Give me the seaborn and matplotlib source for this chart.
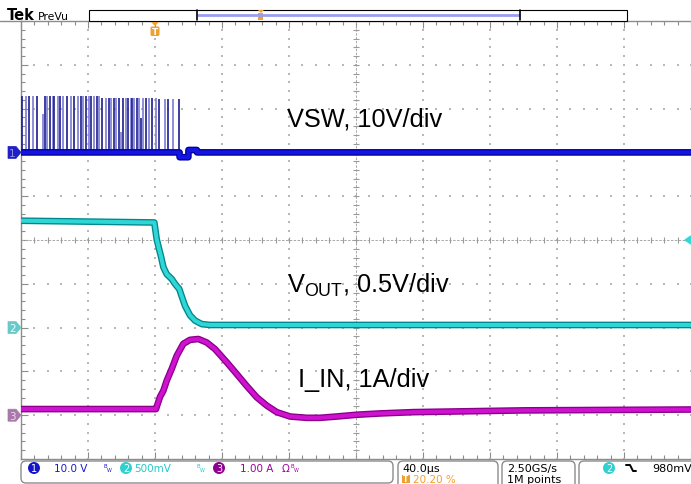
import numpy as np
import pandas as pd
import matplotlib
matplotlib.use("Agg")
import matplotlib.pyplot as plt
import seaborn as sns
from matplotlib import font_manager
from matplotlib.patches import Rectangle, FancyBboxPatch, Polygon, Ellipse

# ---------------- data ----------------
# horizontal: 40 us/div, 10 divisions, trigger at 80 us (20 %)
# CH1 VSW (10 V/div): switching pulses then a flat trace
vsw_pulse_t_us = [0.4, 2.8, 4.8, 7.3, 9.7, 13.0, 14.3, 15.7, 17.1, 18.9, 19.9, 21.9,
                  23.3, 25.1, 27.6, 29.7, 31.8, 34.2, 35.6, 37.2, 38.8, 40.6, 42.0,
                  43.4, 45.2, 46.8, 48.4, 50.8, 52.5, 53.6, 55.5, 56.7, 58.5, 59.7,
                  60.7, 62.5, 64.1, 65.5, 66.5, 67.6, 69.4, 70.6, 71.6, 73.0, 74.5,
                  76.6, 78.4, 80.6, 82.6, 86.0, 87.9, 90.6, 94.5]
vsw_pulse_v = [12.8, 12.8, 12.8, 12.8, 12.8, 8.8, 12.8, 12.8, 12.8, 12.8, 12.8, 12.8,
               12.8, 12.8, 12.8, 12.8, 12.8, 12.8, 12.8, 12.8, 12.8, 12.8, 12.8,
               12.8, 12.8, 12.8, 12.5, 12.5, 12.5, 12.5, 12.5, 12.5, 12.5, 4.7,
               12.5, 12.5, 12.5, 12.5, 12.5, 12.5, 12.5, 12.5, 7.9, 12.5, 12.5,
               12.5, 12.5, 12.5, 12.2, 12.2, 12.2, 12.2, 12.2]
vsw_t_us = [0, 94.6, 94.7, 99.9, 100.0, 105.0, 105.1, 400]
vsw_v = [0.0, 0.0, -1.1, -1.1, 0.55, 0.55, 0.0, 0.0]

# CH2 VOUT (0.5 V/div)
vout_t_us = [0, 79.6, 81.0, 82.4, 83.6, 85.0, 87.0, 90.0, 91.9, 94.5, 95.9, 97.9,
             100.9, 103.9, 107.9, 112.8, 400]
vout_v = [1.22, 1.20, 1.01, 0.90, 0.81, 0.69, 0.61, 0.555, 0.50, 0.44, 0.36, 0.25,
          0.14, 0.08, 0.04, 0.03, 0.03]

# CH3 I_IN (1 A/div)
iin_t_us = [0, 80.6, 81.0, 83.0, 85.0, 87.0, 90.0, 93.0, 96.9, 100.9, 105.9, 110.9,
            115.8, 122.8, 128.8, 134.7, 140.7, 146.7, 152.7, 160.6, 170.6, 178.5,
            188.5, 200.4, 214.3, 234.2, 300, 400]
iin_a = [0.14, 0.14, 0.19, 0.42, 0.56, 0.79, 1.06, 1.36, 1.63, 1.72, 1.74, 1.66,
         1.51, 1.21, 0.94, 0.67, 0.41, 0.22, 0.07, -0.03, -0.06, -0.06, -0.03,
         0.01, 0.04, 0.07, 0.11, 0.13]

ch_scale = {"VSW": 10.0, "VOUT": 0.5, "IIN": 1.0}        # units per division
ch_offset = {"VSW": 2.0, "VOUT": -2.0, "IIN": -4.0}       # ground marker (div)

labels = ["VSW, 10V/div", r"V$_{\mathrm{OUT}}$, 0.5V/div", "I_IN, 1A/div"]

# ---------------- fonts ----------------
sns.set_theme(style="white")
names = {f.name for f in font_manager.fontManager.ttflist}
big_font = "Liberation Sans Narrow" if "Liberation Sans Narrow" in names else "Liberation Sans"
big_size = 21.5 if big_font == "Liberation Sans Narrow" else 18.3
ui_font = "Liberation Sans Narrow" if "Liberation Sans Narrow" in names else "DejaVu Sans"
ui_size = 9.0 if ui_font == "Liberation Sans Narrow" else 7.5
plt.rcParams["font.family"] = [big_font, "DejaVu Sans"]
plt.rcParams["mathtext.fontset"] = "custom"
plt.rcParams["mathtext.rm"] = big_font
plt.rcParams["mathtext.it"] = big_font

W, H = 691, 485
fig = plt.figure(figsize=(W / 100, H / 100), dpi=100)
fig.patch.set_facecolor("white")
ax = fig.add_axes([21 / W, 25 / H, 670 / W, 438 / H])
ax.set_facecolor("white")
ax.set_xlim(0, 400)
ax.set_ylim(-5, 5)

# ---------------- graticule ----------------
minor_x = np.arange(0, 400.01, 8)
minor_y = np.arange(-5, 5.001, 0.2)
gcol = "#b8b8b8"
for k in range(1, 10):
    if k == 5:
        continue
    ax.scatter(np.full_like(minor_y, k * 40.0), minor_y, s=1.4, c=gcol, marker="s",
               linewidths=0, zorder=1)
for j in range(-4, 5):
    if j == 0:
        continue
    ax.scatter(minor_x, np.full_like(minor_x, float(j)), s=1.4, c=gcol, marker="s",
               linewidths=0, zorder=1)
ax.axhline(0, color="#a8a8a8", lw=0.7, ls=(0, (2.5, 1.5)), zorder=1)
ax.axvline(200, color="#a8a8a8", lw=0.7, ls=(0, (2.5, 1.5)), zorder=1)
ax.scatter(minor_x, np.zeros_like(minor_x), s=22, marker="|", c="#9a9a9a",
           linewidths=0.8, zorder=1)
ax.scatter(np.full_like(minor_y, 200.0), minor_y, s=22, marker="_", c="#9a9a9a",
           linewidths=0.8, zorder=1)

ax.set_xticks(np.arange(0, 401, 40))
ax.set_xticks(minor_x, minor=True)
ax.set_yticks(np.arange(-5, 6, 1))
ax.set_yticks(minor_y, minor=True)
ax.tick_params(which="both", direction="in", top=True, bottom=True, left=True,
               right=False, labelbottom=False, labelleft=False, colors="#8c8c8c")
ax.tick_params(which="major", length=5, width=0.8)
ax.tick_params(which="minor", length=3, width=0.8)
for side in ["top", "left", "bottom"]:
    ax.spines[side].set_color("#8c8c8c")
    ax.spines[side].set_linewidth(1.0)
ax.spines["right"].set_visible(False)
ax.grid(False)

# ---------------- traces ----------------
def to_div(vals, ch):
    return ch_offset[ch] + np.asarray(vals, dtype=float) / ch_scale[ch]

pulse_cols = ["#1c1c8c", "#7a7ad4"] * (len(vsw_pulse_t_us) // 2 + 1)
ax.vlines(vsw_pulse_t_us, ch_offset["VSW"], to_div(vsw_pulse_v, "VSW"),
          colors=pulse_cols[:len(vsw_pulse_t_us)], lw=1.2, zorder=3)

traces = [
    ("VSW", vsw_t_us, vsw_v, "#00009a", "#1414e4"),
    ("VOUT", vout_t_us, vout_v, "#00868c", "#2fd6d6"),
    ("IIN", iin_t_us, iin_a, "#8a008a", "#cf12cf"),
]
for ch, t, v, dark, bright in traces:
    df = pd.DataFrame({"t": t, "y": to_div(v, ch)})
    sns.lineplot(data=df, x="t", y="y", ax=ax, color=dark, lw=4.8, sort=False,
                 estimator=None, zorder=4, solid_capstyle="butt")
    sns.lineplot(data=df, x="t", y="y", ax=ax, color=bright, lw=2.9, sort=False,
                 estimator=None, zorder=5, solid_capstyle="butt")
ax.set_xlabel("")
ax.set_ylabel("")

# ---------------- overlay in pixel coordinates ----------------
ov = fig.add_axes([0, 0, 1, 1], zorder=10)
ov.set_xlim(0, W)
ov.set_ylim(H, 0)
ov.axis("off")
ov.patch.set_alpha(0)

# channel text labels
ov.text(287, 126.7, labels[0], fontsize=big_size, color="black", ha="left",
        va="baseline", family=[big_font])
ov.text(287, 293.3, labels[1], fontsize=big_size, color="black", ha="left",
        va="baseline", family=[big_font])
ov.text(298, 386.7, labels[2], fontsize=big_size, color="black", ha="left",
        va="baseline", family=[big_font])

# ground markers
def marker(yc, face, label, tcol="white"):
    ov.add_patch(Polygon([(8, yc - 6), (16, yc - 6), (21, yc), (16, yc + 6), (8, yc + 6)],
                         closed=True, facecolor=face, edgecolor=face, lw=0.5))
    ov.text(12.5, yc + 0.5, label, fontsize=7.5, color=tcol, ha="center", va="center",
            family=["DejaVu Sans"])

marker(153.4, "#2020c8", "1", "#9090e0")
marker(328.6, "#6cc8c8", "2", "#e8ffff")
marker(416.2, "#a878a8", "3", "#f0d8f0")
ov.add_patch(Polygon([(685, 241), (691, 237), (691, 245)], closed=True,
                     facecolor="#30d8d8", edgecolor="#30d8d8"))

# top bar
ov.text(7, 20.5, "Tek", fontsize=10.5, fontweight="bold", color="black", ha="left",
        va="baseline", family=["DejaVu Sans"])
ov.text(38, 20, "PreVu", fontsize=7.8, color="black", ha="left", va="baseline",
        family=["DejaVu Sans"])
ov.add_patch(Rectangle((89, 10.5), 538, 11, facecolor="white", edgecolor="black", lw=0.8))
ov.plot([197, 520], [15.5, 15.5], color="#9c9cf0", lw=2.0, solid_capstyle="butt")
ov.plot([197, 197], [11, 21], color="black", lw=1.2)
ov.plot([520, 520], [11, 21], color="black", lw=1.2)
ov.add_patch(Polygon([(258, 11), (264, 11), (261, 14)], closed=True, facecolor="#f0a030",
                     edgecolor="none"))
ov.add_patch(Rectangle((258.5, 14), 5, 7, facecolor="#f0a030", edgecolor="none"))
ov.plot([0, 21], [22, 22], color="#8c8c8c", lw=1.0)
# trigger position marker
ov.add_patch(Polygon([(151, 23), (159, 23), (155, 27)], closed=True, facecolor="#f0a030",
                     edgecolor="none"))
ov.add_patch(FancyBboxPatch((150.5, 27.5), 9, 9.5, boxstyle="round,pad=0,rounding_size=1.5",
                            facecolor="#f0a030", edgecolor="none"))
ov.text(155, 32.5, "T", fontsize=6.5, fontweight="bold", color="white", ha="center",
        va="center", family=["DejaVu Sans"])

# bottom status bar
def rbox(x0, y0, x1, y1):
    ov.add_patch(FancyBboxPatch((x0, y0), x1 - x0, y1 - y0,
                                boxstyle="round,pad=0,rounding_size=5",
                                facecolor="white", edgecolor="#8c8c8c", lw=1.0))

def chip(xc, yc, face, label):
    ov.add_patch(Ellipse((xc, yc), 12, 12, facecolor=face, edgecolor="none"))
    ov.text(xc, yc + 0.3, label, fontsize=7, color="white", ha="center", va="center",
            family=["DejaVu Sans"])

def bw(x, y, col):
    ov.text(x, y - 2, "B", fontsize=4, color=col, ha="left", va="center",
            family=["DejaVu Sans"])
    ov.text(x + 3, y + 1.5, "W", fontsize=3.5, color=col, ha="left", va="center",
            family=["DejaVu Sans"])

ty = 469
rbox(21, 462, 393, 484)
chip(34, ty, "#1515c8", "1")
ov.text(54, ty, "10.0 V", fontsize=ui_size, color="#1a1ad0", ha="left", va="center",
        family=[ui_font])
bw(104, ty, "#1a1ad0")
chip(126, ty, "#30d0d0", "2")
ov.text(134, ty, "500mV", fontsize=ui_size, color="#28c8c8", ha="left", va="center",
        family=[ui_font])
bw(197, ty, "#28c8c8")
chip(219, ty, "#900090", "3")
ov.text(240, ty, "1.00 A", fontsize=ui_size, color="#a000a0", ha="left", va="center",
        family=[ui_font])
ov.text(282, ty, "Ω", fontsize=ui_size, color="#a000a0", ha="left", va="center",
        family=["DejaVu Sans"])
bw(291, ty, "#a000a0")

rbox(398, 462, 498, 492)
ov.text(402, ty, "40.0µs", fontsize=ui_size + 0.5, color="black", ha="left", va="center",
        family=[ui_font])
ov.add_patch(Rectangle((402, 475.5), 8, 8.5, facecolor="#f0a030", edgecolor="none"))
ov.text(406, 480, "T", fontsize=5.5, fontweight="bold", color="white", ha="center",
        va="center", family=["DejaVu Sans"])
ov.text(413, 480, "20.20 %", fontsize=ui_size, color="#f0a030", ha="left", va="center",
        family=[ui_font])

rbox(502, 462, 575, 492)
ov.text(507, ty, "2.50GS/s", fontsize=ui_size + 0.5, color="black", ha="left",
        va="center", family=[ui_font])
ov.text(507, 480.5, "1M points", fontsize=ui_size + 0.5, color="black", ha="left",
        va="center", family=[ui_font])

rbox(579, 462, 710, 492)
chip(609, ty, "#30d0d0", "2")
ov.plot([626, 630, 633, 636], [466, 466, 472, 472], color="black", lw=1.4)
ov.text(652, ty, "980mV", fontsize=ui_size + 0.5, color="black", ha="left", va="center",
        family=[ui_font])

fig.savefig("out.png", dpi=100)
